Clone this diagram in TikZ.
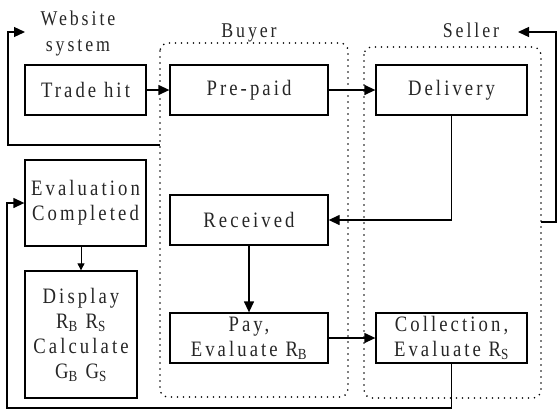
\documentclass[tikz,border=0pt]{standalone}
\usepackage{fontspec}
\setmainfont{Liberation Serif}[LetterSpace=14, FakeStretch=0.85]
\usepackage{tikz}
\usetikzlibrary{arrows.meta, positioning}

\begin{document}
\begin{tikzpicture}[
    x=1pt, y=-1pt,
    box/.style={rectangle, draw, line width=1.3pt, align=center, inner sep=0pt, text=black!85, font=\fontsize{22}{25}\selectfont},
    lane/.style={draw, line width=1.8pt, dash pattern=on 0pt off 6pt, line cap=round, rounded corners=8pt},
    title/.style={font=\fontsize{21}{26}\selectfont, align=center, text=black!85},
    arrow/.style={-{Triangle[length=11pt, width=10pt]}, line width=1.3pt},
    smallarrow/.style={-{Triangle[length=7pt, width=7pt]}, line width=0.9pt}
]
\useasboundingbox (0,0) rectangle (557,410);

% Define lanes
\draw[lane] (160,43) rectangle (348,397);
\draw[lane] (364,47) rectangle (541,398);

% Lane titles
\node[title] (website) at (78,33) {Website\\system};
\node[title, anchor=base] (buyer) at (249,37) {Buyer};
\node[title, anchor=base] (seller) at (471,37) {Seller};

% Define nodes
\node[box, minimum width=121pt, minimum height=50pt] (trade) at (85.5,90) {Trade hit};
\node[box, minimum width=158pt, minimum height=50pt] (prepaid) at (249,90) {Pre-paid};
\node[box, minimum width=151pt, minimum height=50pt] (delivery) at (451.5,90) {Delivery};
\node[box, minimum width=121pt, minimum height=86pt] (eval) at (85.5,203) {Evaluation\\Completed};
\node[box, minimum width=112pt, minimum height=127pt] (display) at (81,334.5) {Display\\R\textsubscript{B} R\textsubscript{S}\\Calculate\\G\textsubscript{B} G\textsubscript{S}};
\node[box, minimum width=158pt, minimum height=50pt] (received) at (249,220) {Received};
\node[box, minimum width=158pt, minimum height=50pt] (pay) at (249,338) {Pay,\\Evaluate R\textsubscript{B}};
\node[box, minimum width=151pt, minimum height=50pt] (collect) at (451.5,338) {Collection,\\Evaluate R\textsubscript{S}};

% Loop ends
\coordinate (buyerexit) at (160,145);
\coordinate (webtip) at (25,32);
\coordinate (sellerexit) at (541,222);
\coordinate (sellertip) at (518,32);
\coordinate (bottomleft) at (7,408);

% Define arrows
\draw[arrow] (trade) -- (prepaid);
\draw[arrow] (prepaid) -- (delivery);
\draw[arrow] (delivery.south) |- (received.east);
\draw[arrow] (received) -- (pay);
\draw[arrow] (pay) -- (collect);
\draw[smallarrow] (display.north |- eval.south) -- (display.north);

% Collection back to evaluation (bottom loop)
\draw[arrow] (collect.south) |- (bottomleft) |- (eval.west);

% Buyer back to website system
\draw[arrow] (buyerexit) -| (8,32) -- (webtip);

% Seller loop on the right
\draw[arrow] (sellerexit) -- (556,222) |- (sellertip);

\end{tikzpicture}
\end{document}
